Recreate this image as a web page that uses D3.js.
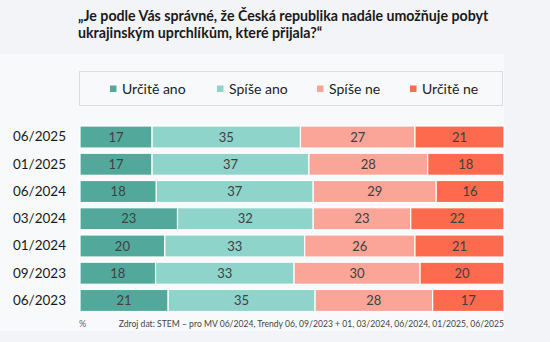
<!DOCTYPE html>
<html>
<head>
<meta charset="utf-8">
<script src="https://cdn.jsdelivr.net/npm/d3@7"></script>
<style>
  html, body { margin: 0; padding: 0; background: #f3f4f7; }
  svg { display: block; font-family: Lato, "Noto Sans", sans-serif; }
</style>
</head>
<body>
<div id="chart"></div>
<script>
const width = 550;
const height = 342;

const rows = ['06/2025', '01/2025', '06/2024', '03/2024', '01/2024', '09/2023', '06/2023'];
const answers = ['Určitě ano', 'Spíše ano', 'Spíše ne', 'Určitě ne'];
const colours = ['#52a99b', '#8ed4ca', '#faa597', '#fd6a4e'];

const urciteAno = [17, 17, 18, 23, 20, 18, 21];
const spiseAno = [35, 37, 37, 32, 33, 33, 35];
const spiseNe = [27, 28, 29, 23, 26, 30, 28];
const urciteNe = [21, 18, 16, 22, 21, 20, 17];

const titleLines = [
  '„Je podle Vás správné, že Česká republika nadále umožňuje pobyt',
  'ukrajinským uprchlíkům, které přijala?“'
];
const source = 'Zdroj dat: STEM – pro MV 06/2024, Trendy 06, 09/2023 + 01, 03/2024, 06/2024, 01/2025,  06/2025';

const series = [urciteAno, spiseAno, spiseNe, urciteNe];
const table = rows.map((r, i) => {
  const o = { row: r };
  answers.forEach((a, k) => { o[a] = series[k][i]; });
  return o;
});
// rounded shares don't always add up to 100, so each row is expanded to full width
const stacked = d3.stack().keys(answers).offset(d3.stackOffsetExpand)(table);

const svg = d3.select('#chart')
  .append('svg')
  .attr('width', width)
  .attr('height', height);

// lighter plotting panel
svg.append('rect')
  .attr('x', 0).attr('y', 54)
  .attr('width', 504).attr('height', 277)
  .attr('fill', '#f8f9fb');

// title
svg.append('g').selectAll('text').data(titleLines)
  .enter().append('text')
  .attr('x', 78)
  .attr('y', (d, i) => 21 + i * 17)
  .attr('font-size', 14.2)
  .attr('font-weight', 'bold')
  .attr('fill', '#1a1a1a')
  .text(d => d);

// legend
const legend = svg.append('g');
legend.append('rect')
  .attr('x', 79.5).attr('y', 71.5)
  .attr('width', 423).attr('height', 34)
  .attr('fill', '#f8f9fb')
  .attr('stroke', '#dcdde0');

const legendX = [110, 217, 317, 410];
const items = legend.selectAll('g.item').data(answers)
  .enter().append('g')
  .attr('class', 'item')
  .attr('transform', (d, i) => `translate(${legendX[i]},89)`);
items.append('rect')
  .attr('x', 0).attr('y', -3.5)
  .attr('width', 6.5).attr('height', 6.5)
  .attr('fill', (d, i) => colours[i]);
items.append('text')
  .attr('x', 12)
  .attr('dy', '0.35em')
  .attr('font-size', 14)
  .attr('fill', '#222')
  .text(d => d);

// scales
const xScale = d3.scaleLinear().domain([0, 1]).range([80, 504]);
const yScale = d3.scaleBand().domain(rows).range([126, 311.5]).paddingInner(0.19);

// row labels
svg.append('g')
  .attr('transform', 'translate(66,0)')
  .call(d3.axisLeft(yScale).tickSize(0).tickPadding(0))
  .call(g => g.select('.domain').remove())
  .call(g => g.selectAll('text')
    .attr('font-size', 13.5)
    .attr('font-family', 'Lato, "Noto Sans", sans-serif')
    .attr('fill', '#1a1a1a'));

// bars
const layers = svg.append('g').selectAll('g').data(stacked)
  .enter().append('g')
  .attr('fill', (d, i) => colours[i]);

layers.selectAll('rect').data(d => d)
  .enter().append('rect')
  .attr('x', d => xScale(d[0]))
  .attr('y', d => yScale(d.data.row))
  .attr('width', d => xScale(d[1]) - xScale(d[0]))
  .attr('height', yScale.bandwidth())
  .attr('stroke', '#ffffff')
  .attr('stroke-width', 1.2);

layers.selectAll('text').data(d => d.map(p => ({ p, key: d.key })))
  .enter().append('text')
  .attr('x', d => xScale((d.p[0] + d.p[1]) / 2))
  .attr('y', d => yScale(d.p.data.row) + yScale.bandwidth() / 2)
  .attr('dy', '0.36em')
  .attr('text-anchor', 'middle')
  .attr('font-size', 13)
  .attr('fill', '#404040')
  .text(d => d.p.data[d.key]);

// footer
svg.append('text')
  .attr('x', 79).attr('y', 327)
  .attr('font-size', 9)
  .attr('fill', '#666')
  .text('%');

svg.append('text')
  .attr('x', 504).attr('y', 327)
  .attr('text-anchor', 'end')
  .attr('font-size', 8.6)
  .attr('fill', '#444')
  .text(source);
</script>
</body>
</html>
